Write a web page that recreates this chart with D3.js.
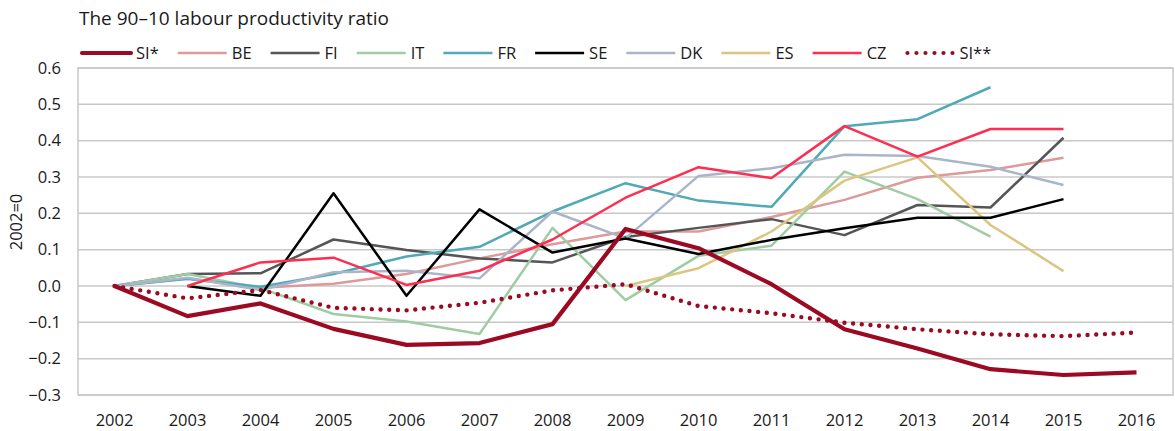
<!DOCTYPE html>
<html>
<head>
<meta charset="utf-8">
<script src="https://cdn.jsdelivr.net/npm/d3@7"></script>
<style>
  body { margin: 0; background: #fff; }
  text { font-family: "Open Sans", sans-serif; fill: #1a1a1a; }
</style>
</head>
<body>
<div id="chart"></div>
<script>
// data (2002 = 0)
const years = ["2002","2003","2004","2005","2006","2007","2008","2009","2010","2011","2012","2013","2014","2015","2016"];
const yTicks = [-0.3, -0.2, -0.1, 0.0, 0.1, 0.2, 0.3, 0.4, 0.5, 0.6];

const SI  = [0, -0.083, -0.048, -0.118, -0.162, -0.157, -0.105, 0.157, 0.104, 0.005, -0.119, -0.172, -0.229, -0.245, -0.238];
const BE  = [0, 0.02, -0.005, 0.006, 0.033, 0.076, 0.115, 0.15, 0.15, 0.19, 0.237, 0.298, 0.319, 0.353, null];
const FI  = [0, 0.033, 0.035, 0.128, 0.099, 0.076, 0.065, 0.135, 0.16, 0.184, 0.14, 0.223, 0.216, 0.408, null];
const IT  = [0, 0.033, -0.006, -0.077, -0.098, -0.132, 0.16, -0.039, 0.083, 0.111, 0.315, 0.239, 0.136, null, null];
const FR  = [0, 0.02, -0.002, 0.033, 0.081, 0.108, 0.205, 0.283, 0.235, 0.218, 0.44, 0.459, 0.547, null, null];
const SE  = [null, 0, -0.027, 0.255, -0.027, 0.211, 0.092, 0.131, 0.088, 0.127, 0.159, 0.188, 0.188, 0.239, null];
const DK  = [0, 0.023, -0.011, 0.038, 0.042, 0.021, 0.205, 0.131, 0.303, 0.324, 0.361, 0.358, 0.328, 0.278, null];
const ES  = [null, null, null, null, null, null, null, 0, 0.049, 0.15, 0.29, 0.354, 0.168, 0.041, null];
const CZ  = [null, 0, 0.065, 0.078, 0.003, 0.042, 0.128, 0.243, 0.327, 0.297, 0.44, 0.356, 0.432, 0.432, null];
const SI2 = [0, -0.034, -0.011, -0.06, -0.067, -0.046, -0.012, 0.005, -0.055, -0.075, -0.101, -0.119, -0.133, -0.138, -0.128];

const seriesNames = ["SI*", "BE", "FI", "IT", "FR", "SE", "DK", "ES", "CZ", "SI**"];
const seriesValues = [SI, BE, FI, IT, FR, SE, DK, ES, CZ, SI2];
const colors = ["#9b0a22", "#dd9a9a", "#555555", "#9fcca3", "#4fa9b6", "#000000", "#aab5c9", "#dcc580", "#ff2d50", "#9b0a22"];

const width = 1175, height = 431;
const margin = {top: 68, right: 2, bottom: 36, left: 78};

const svg = d3.select("#chart").append("svg")
    .attr("width", width)
    .attr("height", height);

const x = d3.scaleBand().domain(years).range([margin.left, width - margin.right]);
const y = d3.scaleLinear().domain([-0.3, 0.6]).range([height - margin.bottom, margin.top]);

// title
svg.append("text")
    .attr("x", 79).attr("y", 25)
    .style("font-size", "19px")
    .text("The 90\u201310 labour productivity ratio");

// gridlines
svg.append("g").selectAll("line")
    .data(yTicks)
    .join("line")
    .attr("x1", margin.left).attr("x2", width - margin.right)
    .attr("y1", d => y(d)).attr("y2", d => y(d))
    .attr("stroke", "#c8c8c8").attr("stroke-width", 1.5);

// frame
svg.append("rect")
    .attr("x", margin.left).attr("y", margin.top)
    .attr("width", width - margin.right - margin.left)
    .attr("height", height - margin.bottom - margin.top)
    .attr("fill", "none").attr("stroke", "#c8c8c8").attr("stroke-width", 1.5);

// y axis
const yAxis = svg.append("g")
    .attr("transform", `translate(${margin.left},0)`)
    .call(d3.axisLeft(y).tickValues(yTicks).tickFormat(d3.format(".1f")).tickSize(0).tickPadding(17));
yAxis.select(".domain").remove();
yAxis.selectAll("text").style("font-size", "16.5px").style("font-family", "'Open Sans', sans-serif").attr("fill", "#1a1a1a");

// x axis
const xAxis = svg.append("g")
    .attr("transform", `translate(0,${height - margin.bottom})`)
    .call(d3.axisBottom(x).tickSize(0).tickPadding(19));
xAxis.select(".domain").remove();
xAxis.selectAll("text").style("font-size", "16.5px").style("font-family", "'Open Sans', sans-serif").attr("fill", "#1a1a1a");

// y label
svg.append("text")
    .attr("transform", "translate(22,222) rotate(-90)")
    .attr("text-anchor", "middle")
    .style("font-size", "16.5px")
    .text("2002=0");

// lines
const line = d3.line()
    .defined(d => d.v !== null)
    .x(d => x(d.year) + x.bandwidth() / 2)
    .y(d => y(d.v));

const drawOrder = [1, 2, 3, 4, 6, 7, 5, 8, 9, 0];
drawOrder.forEach(i => {
  const pts = years.map((yr, j) => ({year: yr, v: seriesValues[i][j]}));
  const p = svg.append("path")
      .datum(pts)
      .attr("d", line)
      .attr("fill", "none")
      .attr("stroke", colors[i])
      .attr("stroke-linejoin", "round");
  if (i === 0) p.attr("stroke-width", 4.2);
  else if (i === 9) p.attr("stroke-width", 4.4).attr("stroke-dasharray", "0 8.7").attr("stroke-linecap", "round");
  else p.attr("stroke-width", 2.5);
});

// legend
const legend = svg.append("g").attr("transform", "translate(82,53)");
let lx = 0;
seriesNames.forEach((name, i) => {
  const g = legend.append("g").attr("transform", `translate(${lx},0)`);
  const ln = g.append("line")
      .attr("x1", 0).attr("x2", 49).attr("y1", 0).attr("y2", 0)
      .attr("stroke", colors[i]);
  if (i === 0) ln.attr("stroke-width", 4.2).attr("stroke-linecap", "round");
  else if (i === 9) ln.attr("x1", 2).attr("x2", 48).attr("stroke-width", 4.2).attr("stroke-dasharray", "0 9").attr("stroke-linecap", "round");
  else ln.attr("stroke-width", 2.5);
  const t = g.append("text")
      .attr("x", 54).attr("y", 6)
      .style("font-size", "16.5px")
      .text(name);
  lx += 54 + t.node().getComputedTextLength() + 19;
});
</script>
</body>
</html>
